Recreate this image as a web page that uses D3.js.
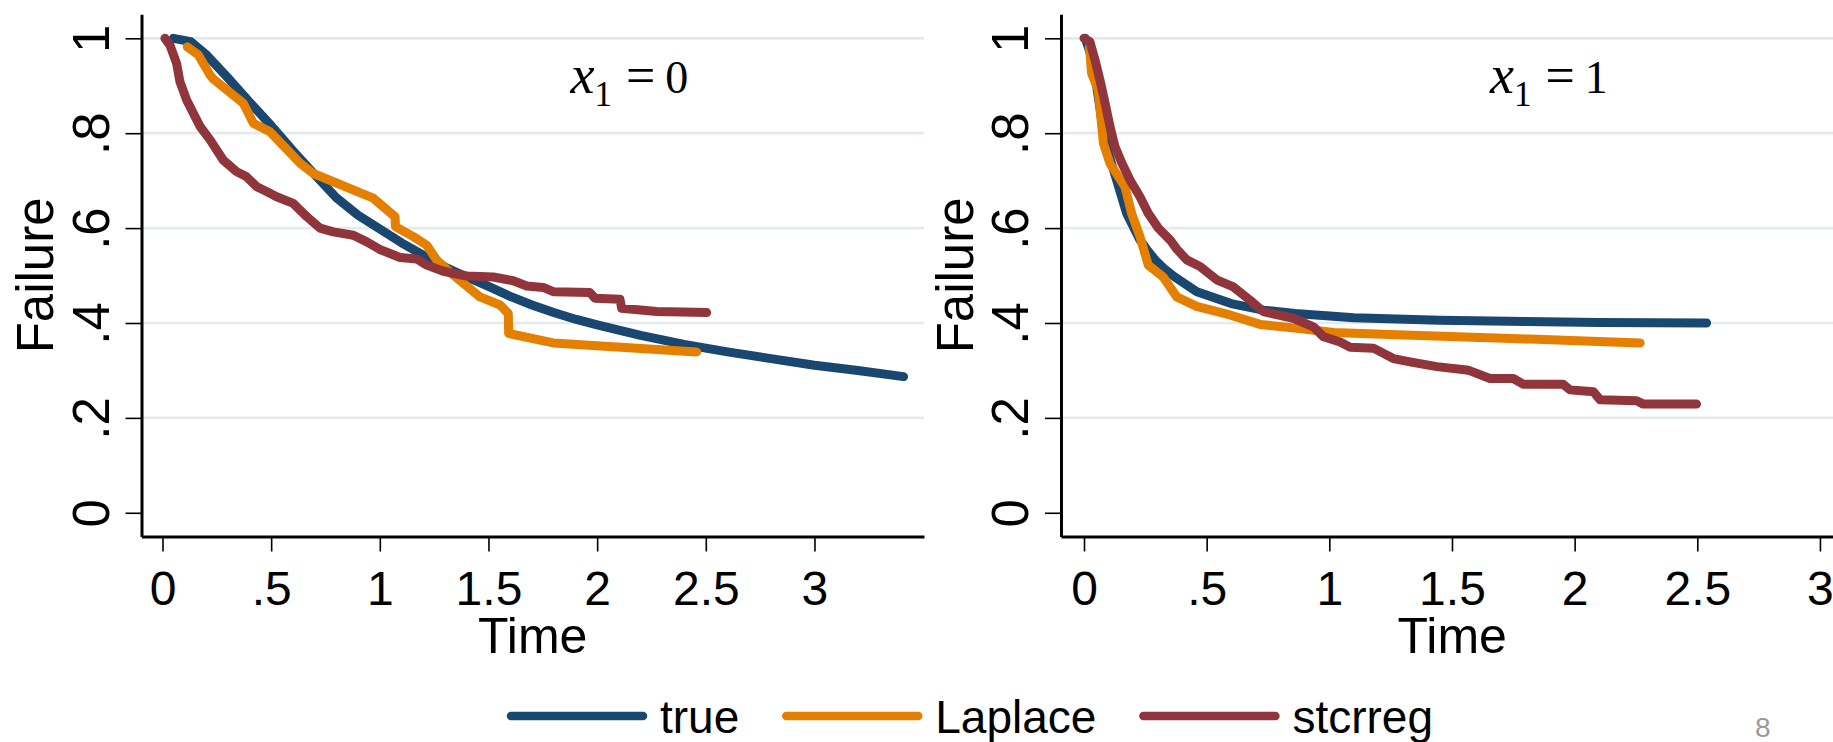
<!DOCTYPE html>
<html>
<head>
<meta charset="utf-8">
<script src="https://cdn.jsdelivr.net/npm/d3@7"></script>
<style>
    body { margin: 0; background: #ffffff; }
    svg { display: block; }
    .line { fill: none; stroke-width: 9; stroke-linecap: round; stroke-linejoin: round; }
    .grid { stroke: #e3ebee; stroke-width: 2.7; }
    .label { font-family: "Liberation Sans", Arial, Helvetica, sans-serif; fill: #000; }
    .math { font-family: "Liberation Serif", "Times New Roman", serif; fill: #000; }
</style>
</head>
<body>
<div id="chart"></div>
<script>
// Tick values and labels (Stata style, no leading zero)
let xTicks = [0, 0.5, 1, 1.5, 2, 2.5, 3];
let xTickLabels = ["0", ".5", "1", "1.5", "2", "2.5", "3"];
let yTicks = [0, 0.2, 0.4, 0.6, 0.8, 1];
let yTickLabels = ["0", ".2", ".4", ".6", ".8", "1"];
let gridTicks = [0.2, 0.4, 0.6, 0.8, 1];

let seriesNames = ["true", "Laplace", "stcrreg"];
let seriesColors = ["#1a476f", "#e47f00", "#90353b"];
let panelValues = ["0", "1"];

// Panel x1 = 0
let trueTime0 = [0.05, 0.13, 0.2, 0.3, 0.4, 0.5, 0.6, 0.7, 0.8, 0.9, 1.0, 1.1, 1.2, 1.3, 1.4, 1.5, 1.6, 1.7, 1.8, 1.9, 2.0, 2.2, 2.4, 2.6, 2.8, 3.0, 3.2, 3.41];
let trueFail0 = [1.0, 0.993, 0.966, 0.917, 0.866, 0.816, 0.763, 0.713, 0.664, 0.627, 0.598, 0.569, 0.543, 0.518, 0.497, 0.477, 0.456, 0.438, 0.422, 0.408, 0.396, 0.374, 0.355, 0.339, 0.325, 0.311, 0.300, 0.287];

let laplaceTime0 = [0.114, 0.165, 0.218, 0.234, 0.372, 0.418, 0.495, 0.633, 0.694, 0.970, 1.070, 1.072, 1.154, 1.216, 1.261, 1.338, 1.461, 1.553, 1.591, 1.593, 1.798, 2.458];
let laplaceFail0 = [0.982, 0.965, 0.923, 0.914, 0.863, 0.821, 0.803, 0.737, 0.715, 0.663, 0.624, 0.603, 0.582, 0.564, 0.533, 0.501, 0.455, 0.438, 0.420, 0.378, 0.358, 0.339];

let stcrregTime0 = [0.011, 0.034, 0.065, 0.080, 0.111, 0.142, 0.173, 0.219, 0.280, 0.341, 0.387, 0.434, 0.479, 0.525, 0.602, 0.664, 0.725, 0.786, 0.878, 0.940, 1.0, 1.093, 1.170, 1.216, 1.292, 1.40, 1.522, 1.614, 1.676, 1.752, 1.798, 1.967, 1.990, 2.105, 2.113, 2.274, 2.504];
let stcrregFail0 = [1.0, 0.986, 0.947, 0.909, 0.870, 0.842, 0.814, 0.786, 0.743, 0.719, 0.708, 0.687, 0.677, 0.666, 0.652, 0.624, 0.600, 0.592, 0.585, 0.571, 0.555, 0.538, 0.535, 0.522, 0.509, 0.499, 0.497, 0.489, 0.478, 0.475, 0.466, 0.464, 0.452, 0.450, 0.431, 0.424, 0.422];

// Panel x1 = 1
let trueTime1 = [0.005, 0.031, 0.052, 0.072, 0.099, 0.133, 0.174, 0.228, 0.26, 0.29, 0.33, 0.37, 0.46, 0.6, 0.73, 0.86, 1.1, 1.45, 1.8, 2.1, 2.538];
let trueFail1 = [1.0, 0.961, 0.898, 0.828, 0.758, 0.701, 0.631, 0.575, 0.552, 0.533, 0.513, 0.497, 0.466, 0.441, 0.427, 0.420, 0.411, 0.406, 0.403, 0.401, 0.400];

let laplaceTime1 = [0.022, 0.031, 0.058, 0.079, 0.106, 0.167, 0.194, 0.228, 0.262, 0.323, 0.378, 0.459, 0.595, 0.718, 0.867, 1.017, 1.275, 1.818, 2.267];
let laplaceFail1 = [0.982, 0.926, 0.891, 0.779, 0.736, 0.687, 0.631, 0.582, 0.522, 0.497, 0.455, 0.435, 0.417, 0.397, 0.389, 0.380, 0.375, 0.366, 0.358];

let stcrregTime1 = [0.0, 0.024, 0.045, 0.065, 0.086, 0.106, 0.126, 0.154, 0.188, 0.228, 0.262, 0.303, 0.351, 0.378, 0.419, 0.473, 0.541, 0.609, 0.677, 0.731, 0.853, 0.935, 0.976, 1.044, 1.085, 1.180, 1.261, 1.329, 1.438, 1.560, 1.574, 1.655, 1.750, 1.790, 1.953, 1.981, 2.077, 2.104, 2.253, 2.280, 2.497];
let stcrregFail1 = [1.0, 0.993, 0.954, 0.912, 0.863, 0.814, 0.772, 0.737, 0.701, 0.666, 0.631, 0.600, 0.575, 0.556, 0.533, 0.519, 0.491, 0.476, 0.448, 0.424, 0.410, 0.392, 0.371, 0.360, 0.349, 0.347, 0.325, 0.318, 0.308, 0.301, 0.299, 0.283, 0.283, 0.271, 0.271, 0.259, 0.255, 0.238, 0.236, 0.229, 0.229];

/**
 * zipSeries pairs a time array with a failure array
 * @param {*} times
 * @param {*} fails
 */
let zipSeries = function (times, fails) {
    return times.map(function (t, i) { return { time: t, fail: fails[i] }; });
}

/**
 * drawPanel draws one of the two failure plots
 * @param {*} svg
 * @param {*} panel
 */
let drawPanel = function (svg, panel) {
    let plotTop = 14.3;
    let plotBottom = 536.5;

    let xScale = d3.scaleLinear()
        .domain(panel.xDomain)
        .range([panel.left, panel.right]);

    let yScale = d3.scaleLinear()
        .domain([-0.050, 1.0506])
        .range([plotBottom, plotTop]);

    // Horizontal gridlines
    svg.append("g")
        .selectAll("line")
        .data(gridTicks)
        .enter()
        .append("line")
        .attr("class", "grid")
        .attr("x1", panel.left)
        .attr("x2", panel.right)
        .attr("y1", function (d) { return yScale(d); })
        .attr("y2", function (d) { return yScale(d); });

    // X axis
    let xAxis = d3.axisBottom(xScale)
        .tickValues(xTicks)
        .tickFormat(function (d, i) { return xTickLabels[i]; })
        .tickSize(15)
        .tickSizeOuter(0);

    let gx = svg.append("g")
        .attr("transform", "translate(0," + plotBottom + ")")
        .call(xAxis);
    gx.attr("font-size", 48).attr("font-family", "Liberation Sans, Arial, sans-serif");
    gx.select(".domain").style("stroke", "#000").style("stroke-width", 3);
    gx.selectAll(".tick line").style("stroke", "#000").style("stroke-width", 1.6);
    gx.selectAll(".tick text").attr("y", 68.5).attr("dy", null).style("fill", "#000");

    // Y axis with rotated labels
    let yAxis = d3.axisLeft(yScale)
        .tickValues(yTicks)
        .tickFormat(function (d, i) { return yTickLabels[i]; })
        .tickSize(16)
        .tickSizeOuter(0);

    let gy = svg.append("g")
        .attr("transform", "translate(" + panel.left + ",0)")
        .call(yAxis);
    gy.attr("font-size", 51).attr("font-family", "Liberation Sans, Arial, sans-serif");
    gy.select(".domain").style("stroke", "#000").style("stroke-width", 3);
    gy.selectAll(".tick line").style("stroke", "#000").style("stroke-width", 1.6);
    gy.selectAll(".tick text")
        .attr("x", 0)
        .attr("dy", null)
        .attr("text-anchor", "middle")
        .attr("transform", "translate(-33,0) rotate(-90)")
        .style("fill", "#000");

    // Axis titles
    svg.append("text")
        .attr("class", "label")
        .attr("text-anchor", "middle")
        .attr("transform", "translate(" + (panel.left - 88.2) + "," + ((plotTop + plotBottom) / 2) + ") rotate(-90)")
        .style("font-size", "51px")
        .text("Failure");

    svg.append("text")
        .attr("class", "label")
        .attr("text-anchor", "middle")
        .attr("x", (panel.left + panel.right) / 2)
        .attr("y", 652.5)
        .style("font-size", "50px")
        .text("Time");

    // Series lines
    let line = d3.line()
        .x(function (d) { return xScale(d.time); })
        .y(function (d) { return yScale(d.fail); });

    panel.series.forEach(function (s, i) {
        svg.append("path")
            .datum(s)
            .attr("class", "line")
            .attr("d", line)
            .style("stroke", seriesColors[i]);
    });

    // x1 annotation
    let note = svg.append("text")
        .attr("class", "math")
        .attr("x", panel.left + 429)
        .attr("y", 93.3);
    note.append("tspan").style("font-style", "italic").style("font-size", "54px").text("x");
    note.append("tspan").attr("dx", 0).attr("dy", 13).style("font-size", "35px").text("1");
    note.append("tspan").attr("dx", 14).attr("dy", -13).style("font-size", "52px").text("=");
    note.append("tspan").attr("dx", 10).style("font-size", "46px").text(panel.value);
}

/**
 * drawLegend draws the legend row at the bottom
 * @param {*} svg
 */
let drawLegend = function (svg) {
    let x = 511;
    let lineY = 716;
    seriesNames.forEach(function (name, i) {
        svg.append("line")
            .attr("x1", x)
            .attr("x2", x + 132)
            .attr("y1", lineY)
            .attr("y2", lineY)
            .style("stroke", seriesColors[i])
            .style("stroke-width", 8.5)
            .style("stroke-linecap", "round");
        let label = svg.append("text")
            .attr("class", "label")
            .attr("x", x + 149)
            .attr("y", 733.3)
            .style("font-size", "46px")
            .text(name);
        x = x + 149 + label.node().getComputedTextLength() + 47;
    });
}

window.onload = function () {
    let width = 1833;
    let height = 742;

    let svg = d3.select("#chart")
        .append("svg")
        .attr("width", width)
        .attr("height", height);

    svg.append("rect")
        .attr("width", width)
        .attr("height", height)
        .style("fill", "#ffffff");

    let panels = [
        {
            left: 141.5, right: 924, xDomain: [-0.0966, 3.504], value: panelValues[0],
            series: [zipSeries(trueTime0, trueFail0), zipSeries(laplaceTime0, laplaceFail0), zipSeries(stcrregTime0, stcrregFail0)]
        },
        {
            left: 1061, right: 1843.5, xDomain: [-0.0938, 3.096], value: panelValues[1],
            series: [zipSeries(trueTime1, trueFail1), zipSeries(laplaceTime1, laplaceFail1), zipSeries(stcrregTime1, stcrregFail1)]
        }
    ];

    panels.forEach(function (p) { drawPanel(svg, p); });
    drawLegend(svg);

    // slide page number
    svg.append("text")
        .attr("class", "label")
        .attr("x", 1755)
        .attr("y", 737)
        .style("font-size", "28px")
        .style("fill", "#9a9a9a")
        .text("8");
}
</script>
</body>
</html>
